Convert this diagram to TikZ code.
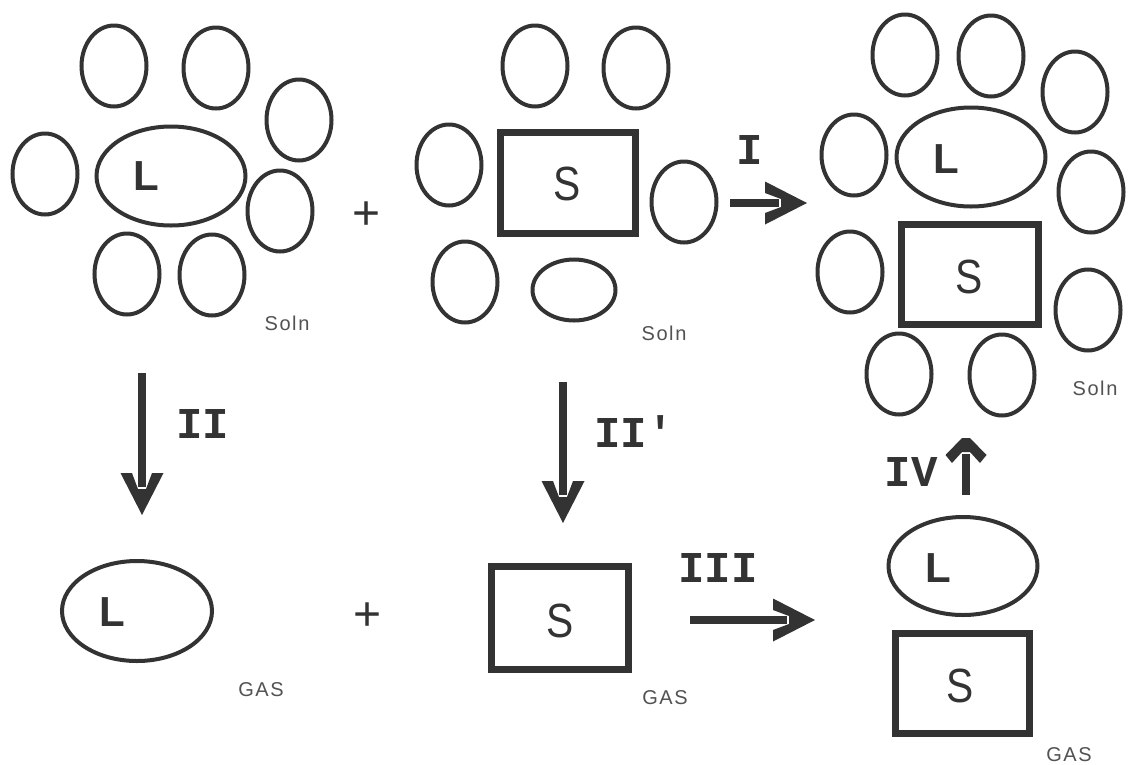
\documentclass[tikz,border=0pt]{standalone}
\usepackage{fontspec}
\setmainfont{Liberation Sans}
\newfontfamily\labfont{Liberation Mono}
\newfontfamily\plotfont[LetterSpace=8]{Liberation Sans}
\usetikzlibrary{shapes.geometric,arrows.meta}
\definecolor{ink}{HTML}{333333}
\pgfdeclarearrow{
  name = Chev,
  parameters = {},
  setup code = {
    \pgfarrowssettipend{0pt}
    \pgfarrowssetlineend{-28pt}
    \pgfarrowssetbackend{-42pt}
    \pgfarrowshullpoint{0pt}{0pt}
    \pgfarrowshullpoint{-42pt}{21.5pt}
    \pgfarrowshullpoint{-42pt}{-21.5pt}
  },
  drawing code = {
    \pgfpathmoveto{\pgfqpoint{0pt}{0pt}}
    \pgfpathlineto{\pgfqpoint{-42pt}{21.5pt}}
    \pgfpathlineto{\pgfqpoint{-42pt}{10pt}}
    \pgfpathlineto{\pgfqpoint{-26pt}{4pt}}
    \pgfpathlineto{\pgfqpoint{-26pt}{-4pt}}
    \pgfpathlineto{\pgfqpoint{-42pt}{-10pt}}
    \pgfpathlineto{\pgfqpoint{-42pt}{-21.5pt}}
    \pgfpathclose
    \pgfusepathqfill
  }
}
\pgfdeclarearrow{
  name = ChevS,
  parameters = {},
  setup code = {
    \pgfarrowssettipend{0pt}
    \pgfarrowssetlineend{-16pt}
    \pgfarrowssetbackend{-25pt}
    \pgfarrowshullpoint{0pt}{4pt}
    \pgfarrowshullpoint{0pt}{-4pt}
    \pgfarrowshullpoint{-25pt}{20pt}
    \pgfarrowshullpoint{-25pt}{-20pt}
  },
  drawing code = {
    \pgfpathmoveto{\pgfqpoint{0pt}{4pt}}
    \pgfpathlineto{\pgfqpoint{-17pt}{20.5pt}}
    \pgfpathlineto{\pgfqpoint{-25pt}{14pt}}
    \pgfpathlineto{\pgfqpoint{-14pt}{4pt}}
    \pgfpathlineto{\pgfqpoint{-14pt}{-4pt}}
    \pgfpathlineto{\pgfqpoint{-25pt}{-14pt}}
    \pgfpathlineto{\pgfqpoint{-17pt}{-20.5pt}}
    \pgfpathlineto{\pgfqpoint{0pt}{-4pt}}
    \pgfpathclose
    \pgfusepathqfill
  }
}
\begin{document}
\begin{tikzpicture}[x=1pt,y=-1pt,
 solv/.style={ellipse,draw=ink,line width=4pt,minimum width=65pt,minimum height=81pt,inner sep=0pt},
 lig/.style={ellipse,draw=ink,line width=4pt,minimum width=149pt,minimum height=99pt,inner sep=0pt},
 subs/.style={rectangle,draw=ink,line width=7pt,minimum width=135pt,minimum height=101pt,inner sep=0pt},
 Ltext/.style={text=ink,font=\fontsize{42}{42}\selectfont\bfseries,inner sep=0pt},
 Stext/.style={text=ink,font=\fontsize{48}{48}\selectfont,xscale=0.85,inner sep=0pt},
 small/.style={text=ink!85,font=\plotfont\fontsize{20}{20}\selectfont,inner sep=0pt},
 roman/.style={text=ink,font=\labfont\bfseries\fontsize{44}{44}\selectfont,inner sep=0pt},
 plus/.style={text=ink,font=\fontsize{48}{48}\selectfont,inner sep=0pt},
 rxn/.style={color=ink,line width=8pt,-Chev},
 rxns/.style={color=ink,line width=8pt,-ChevS},
]
\useasboundingbox[fill=white] (0,0) rectangle (1130,764);

% group 1: solvated L
\node[solv] (a1) at (114,66) {};
\node[solv] (a2) at (216,68) {};
\node[solv] (a3) at (299,120) {};
\node[solv] (a4) at (45,174) {};
\node[solv] (a5) at (280,211) {};
\node[solv] (a6) at (127,274) {};
\node[solv] (a7) at (212,275) {};
\node[lig] (L1) at (171,176) {};
\node[Ltext] (L1t) at (146,176) {L};
\node[small] (soln1) at (287,323) {Soln};
\node[plus] (plus1) at (367,216) {+};

% group 2: solvated S
\node[solv] (b1) at (535,66) {};
\node[solv] (b2) at (636,68) {};
\node[solv] (b3) at (449,165) {};
\node[solv] (b4) at (684,202) {};
\node[solv] (b5) at (465,282) {};
\node[solv,minimum width=83pt,minimum height=61pt] (b6) at (574,290) {};
\node[subs] (S1) at (567.5,183) {};
\node[Stext] (S1t) at (567,184) {S};
\node[small] (soln2) at (664,333) {Soln};

% group 3: solvated complex
\node[solv] (c1) at (905,55) {};
\node[solv] (c2) at (991,56) {};
\node[solv] (c3) at (1075,92) {};
\node[solv] (c4) at (854,155) {};
\node[solv] (c5) at (1091,192) {};
\node[solv] (c6) at (850,272) {};
\node[solv] (c7) at (1088,310) {};
\node[solv] (c8) at (899,374) {};
\node[solv] (c9) at (1002,375) {};
\node[lig] (L3) at (971,157) {};
\node[Ltext] (L3t) at (946,159) {L};
\node[subs,minimum width=137pt,minimum height=100pt] (S3) at (970,274.5) {};
\node[Stext] (S3t) at (969,277) {S};
\node[small] (soln3) at (1095,388) {Soln};

% gas phase
\node[lig,minimum width=150pt,minimum height=100pt] (L2) at (137,611) {};
\node[Ltext] (L2t) at (112,612) {L};
\node[plus] (plus2) at (368,617) {+};
\node[small] (gas1) at (261,690) {GAS};

\node[subs,minimum width=137pt,minimum height=103pt] (S2) at (560,618) {};
\node[Stext] (S2t) at (560,621) {S};
\node[small] (gas2) at (665,698) {GAS};

\node[lig,minimum width=149pt,minimum height=98pt] (L4) at (963,566) {};
\node[Ltext] (L4t) at (938,568) {L};
\node[subs,minimum width=134pt,minimum height=100pt] (S4) at (962.5,683.5) {};
\node[Stext] (S4t) at (960,686) {S};
\node[small] (gas3) at (1069,755) {GAS};

% reaction arrows
\coordinate (i1) at (730,203);
\coordinate (i2) at (807,203);
\draw[rxn] (i1) -- (i2);
\node[roman] (lI) at (750,150) {I};

\coordinate (ii1) at (142,373);
\coordinate (ii2) at (142,515);
\draw[rxn] (ii1) -- (ii2);
\node[roman] (lII) at (203,424) {II};

\coordinate (iip1) at (563,382);
\coordinate (iip2) at (563,523);
\draw[rxn] (iip1) -- (iip2);
\node[roman] (lIIp) at (634,432) {II'};

\coordinate (iii1) at (690,620);
\coordinate (iii2) at (815,620);
\draw[rxn] (iii1) -- (iii2);
\node[roman] (lIII) at (718,568) {III};

\coordinate (iv1) at (966,495);
\coordinate (iv2) at (966,438);
\draw[rxns] (iv1) -- (iv2);
\node[roman] (lIV) at (911,472) {IV};
\end{tikzpicture}
\end{document}
